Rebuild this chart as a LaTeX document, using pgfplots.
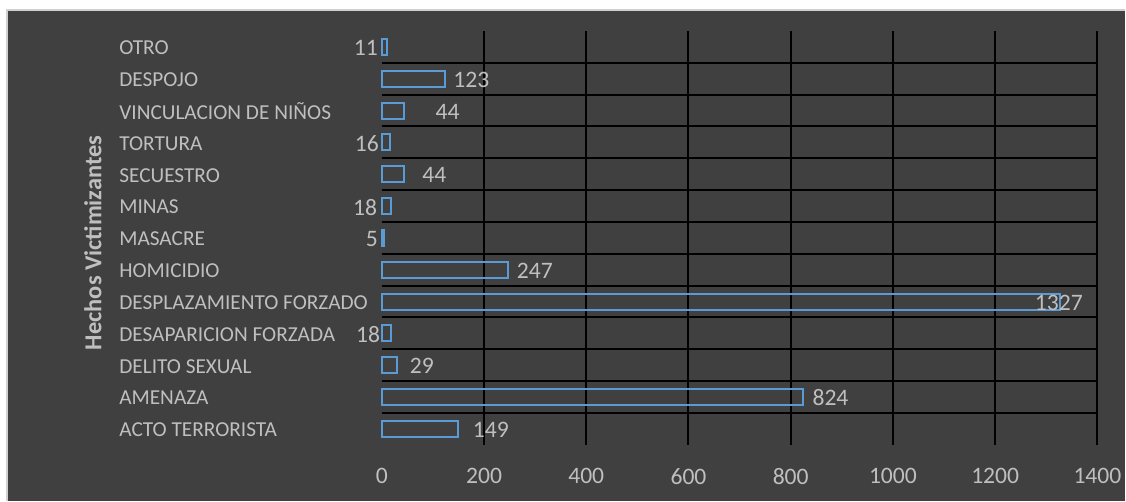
\documentclass[border=0pt]{standalone}
\usepackage{pgfplots}
\pgfplotsset{compat=1.18}
\usepackage{fontspec}
\setmainfont{Carlito}

\definecolor{panel}{HTML}{404040}
\definecolor{txt}{HTML}{BFBFBF}
\definecolor{barline}{HTML}{5B9BD5}
\definecolor{edge}{HTML}{D0D0D0}

\begin{document}
\begin{tikzpicture}
% page and dark panel
\fill[white] (0,0) rectangle (563pt,250.5pt);
\fill[panel] (3.5pt,0) rectangle (563pt,245.5pt);
\draw[edge, line width=0.6pt] (3.5pt,0) -- (3.5pt,245.5pt) -- (563pt,245.5pt);
\begin{axis}[
  at={(191pt,28pt)}, anchor=south west,
  scale only axis, width=358pt, height=207pt,
  xmin=0, xmax=1400, ymin=-0.5, ymax=12.5,
  clip=false,
  axis line style={draw=none},
  major tick length=0pt, minor tick length=0pt,
  xtick={200,400,...,1400},
  extra x ticks={0},
  extra x tick style={grid=none},
  xmajorgrids,
  ytick={0,...,12},
  minor ytick={0.5,1.5,...,11.5},
  yminorgrids,
  major grid style={black, line width=1pt},
  minor grid style={black, line width=1pt},
  yticklabels={ACTO TERRORISTA, AMENAZA, DELITO SEXUAL, DESAPARICION FORZADA,
    DESPLAZAMIENTO FORZADO, HOMICIDIO, MASACRE, MINAS, SECUESTRO, TORTURA,
    VINCULACION DE NIÑOS, DESPOJO, OTRO},
  yticklabel style={anchor=west, inner sep=0pt, xshift=-131.5pt, yshift=-0.5pt,
    font=\fontsize{10.65}{12}\selectfont, text=txt},
  xticklabel style={anchor=north, inner sep=0pt, yshift=-11.5pt,
    font=\fontsize{11.8}{14}\selectfont, text=txt},
  /pgf/number format/assume math mode=true,
  /pgf/number format/1000 sep={},
  every axis y label/.style={at={(axis description cs:-0.4036,0.488)},
    anchor=center, rotate=90},
  ylabel={\textbf{Hechos Victimizantes}},
  ylabel style={font=\fontsize{12.2}{14}\selectfont, text=txt},
]
% row, count, label anchor, label shift (pt, from the bar end)
\addplot[xbar, bar width=8pt, draw=barline, fill=none, line width=1pt,
  visualization depends on={value \thisrow{anc} \as \anc},
  visualization depends on={\thisrow{off} \as \off},
  nodes near coords,
  nodes near coords style={anchor=\anc, xshift=\off, yshift=-0.5pt,
    inner sep=0pt, text=txt, font=\fontsize{11.8}{14}\selectfont},
] table[x=val, y=row] {
row val anc off
0  149  west   7.0
1  824  west   4.3
2  29   west   6.1
3  18   east  -5.0
4  1327 center -0.6
5  247  west   3.9
6  5    east  -2.8
7  18   east  -6.5
8  44   west   8.6
9  16   east  -5.1
10 44   west   15.2
11 123  west   3.9
12 11   east  -4.3
};
\end{axis}
\end{tikzpicture}
\end{document}
